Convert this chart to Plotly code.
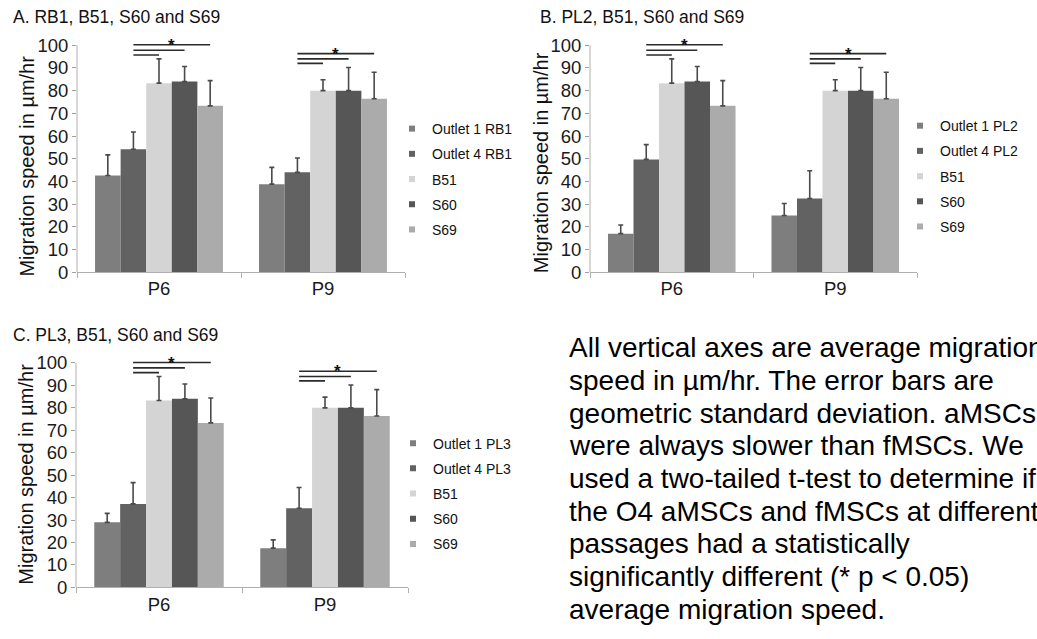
import plotly.graph_objects as go

W, H = 1037, 639
FONT = "Liberation Sans, Arial, sans-serif"

categories = ["P6", "P9"]

# Shared reference cell lines (same in every panel)
b51 = [83.3, 80.0]
b51_err = [10.7, 4.8]
s60 = [84.0, 80.0]
s60_err = [6.6, 10.2]
s69 = [73.3, 76.4]
s69_err = [11.1, 11.7]

# Outlet populations per panel
rb1_o1 = [42.6, 38.8]
rb1_o1_err = [9.1, 7.4]
rb1_o4 = [54.2, 44.0]
rb1_o4_err = [7.6, 6.3]

pl2_o1 = [17.0, 25.0]
pl2_o1_err = [3.8, 5.3]
pl2_o4 = [49.7, 32.5]
pl2_o4_err = [6.5, 12.2]

pl3_o1 = [29.0, 17.5]
pl3_o1_err = [4.0, 3.7]
pl3_o4 = [37.2, 35.3]
pl3_o4_err = [9.5, 9.2]

# Significance bracket heights (O4 vs B51, S60, S69) per passage
sig_p6 = [95.7, 97.8, 100.2]
sig_p9 = [92.0, 94.0, 96.3]

series_colors = ["#7e7e7e", "#626262", "#d4d4d4", "#565656", "#ababab"]

panels = [
    dict(title="A. RB1, B51, S60 and S69", tag="RB1",
         o1=rb1_o1, o1e=rb1_o1_err, o4=rb1_o4, o4e=rb1_o4_err,
         xpx=(77, 405), zero=276, top=45, title_xy=(11, 16),
         ytitle_xy=(27.5, 168), legend_xy=(392, 114)),
    dict(title="B. PL2, B51, S60 and S69", tag="PL2",
         o1=pl2_o1, o1e=pl2_o1_err, o4=pl2_o4, o4e=pl2_o4_err,
         xpx=(590, 917), zero=276, top=45, title_xy=(538, 16),
         ytitle_xy=(541, 165), legend_xy=(900, 111)),
    dict(title="C. PL3, B51, S60 and S69", tag="PL3",
         o1=pl3_o1, o1e=pl3_o1_err, o4=pl3_o4, o4e=pl3_o4_err,
         xpx=(76, 408), zero=596.7, top=368.3, title_xy=(11, 340),
         ytitle_xy=(26, 482), legend_xy=(393, 434)),
]

YMAX = 104
BARGAP = 0.22
NSER = 5
bar_w = (1 - BARGAP) / NSER

fig = go.Figure()
shapes = []
annotations = []
layout_axes = {}

for k, p in enumerate(panels, start=1):
    xa = "x" if k == 1 else f"x{k}"
    ya = "y" if k == 1 else f"y{k}"
    leg = "legend" if k == 1 else f"legend{k}"
    names = [f"Outlet 1 {p['tag']}", f"Outlet 4 {p['tag']}", "B51", "S60", "S69"]
    vals = [p["o1"], p["o4"], b51, s60, s69]
    errs = [p["o1e"], p["o4e"], b51_err, s60_err, s69_err]

    for name, v, e, c in zip(names, vals, errs, series_colors):
        fig.add_trace(go.Bar(
            x=categories, y=v, name=name, marker_color=c, marker_line_width=0,
            error_y=dict(type="data", array=e, arrayminus=[0] * len(e), symmetric=False,
                         color="#4a4a4a", thickness=1.6, width=2.5),
            xaxis=xa, yaxis=ya, showlegend=False,
        ))
        fig.add_trace(go.Scatter(
            x=[None], y=[None], mode="markers", name=name,
            marker=dict(symbol="square", size=6, color=c),
            xaxis=xa, yaxis=ya, legend=leg, legendgroup=f"{k}-{name}",
        ))

    zero, top = p["zero"], p["top"]
    unit = (zero - top) / 100.0
    dom_bottom = 1 - zero / H
    dom_top = 1 - (zero - unit * YMAX) / H
    xkey = "xaxis" if k == 1 else f"xaxis{k}"
    ykey = "yaxis" if k == 1 else f"yaxis{k}"
    layout_axes[xkey] = dict(
        domain=[p["xpx"][0] / W, p["xpx"][1] / W], anchor=ya, type="category",
        showline=True, linecolor="#b0b0b0", linewidth=1,
        ticks="outside", tickson="boundaries", ticklen=5, tickcolor="#b0b0b0",
        tickfont=dict(family=FONT, size=18.5, color="#1a1a1a"),
        showgrid=False, zeroline=False,
    )
    layout_axes[ykey] = dict(
        domain=[dom_bottom, dom_top], anchor=xa, range=[0, YMAX],
        tick0=0, dtick=10, ticks="outside", ticklen=4, tickcolor="#a0a0a0",
        tickfont=dict(family=FONT, size=18.5, color="#1a1a1a"),
        showline=False, showgrid=False, zeroline=False,
    )
    # vertical axis line stops at 100
    shapes.append(dict(type="line", xref=f"{xa} domain", yref=ya, x0=0, x1=0, y0=0, y1=100,
                       line=dict(color="#b0b0b0", width=1)))

    # significance brackets: from the Outlet 4 bar to B51, S60, S69
    for ci, levels in enumerate([sig_p6, sig_p9]):
        start = ci + (1 - 2) * bar_w
        for j, lev in enumerate(levels):
            end = ci + (2 + j - 2) * bar_w
            shapes.append(dict(type="line", xref=xa, yref=ya, x0=start, x1=end,
                               y0=lev, y1=lev, line=dict(color="#2a2a2a", width=1.6)))
        annotations.append(dict(
            x=(start + ci + 2 * bar_w) / 2, y=levels[-1] + 2.4, xref=xa, yref=ya,
            text="<b>*</b>", showarrow=False, yanchor="middle", yshift=-6,
            font=dict(family=FONT, size=17, color="#111")))

    annotations.append(dict(
        x=p["title_xy"][0] / W, y=1 - p["title_xy"][1] / H, xref="paper", yref="paper",
        text=p["title"], showarrow=False, xanchor="left", yanchor="middle",
        font=dict(family=FONT, size=17.5, color="#111")))
    annotations.append(dict(
        x=p["ytitle_xy"][0] / W, y=1 - p["ytitle_xy"][1] / H, xref="paper", yref="paper",
        text="Migration speed in µm/hr", textangle=-90, showarrow=False,
        xanchor="center", yanchor="middle",
        font=dict(family=FONT, size=20, color="#111")))

    layout_axes[leg] = dict(
        x=p["legend_xy"][0] / W, y=1 - p["legend_xy"][1] / H, xanchor="left", yanchor="top",
        font=dict(family=FONT, size=14, color="#111"), bgcolor="rgba(0,0,0,0)",
        tracegroupgap=4, itemwidth=30,
    )

note_lines = [
    "All vertical axes are average migration",
    "speed in µm/hr. The error bars are",
    "geometric standard deviation. aMSCs",
    "were always slower than fMSCs. We",
    "used a two-tailed t-test to determine if",
    "the O4 aMSCs and fMSCs at different",
    "passages had a statistically",
    "significantly different (* p &lt; 0.05)",
    "average migration speed.",
]
for i, line in enumerate(note_lines):
    annotations.append(dict(
        x=567 / W, y=1 - (353 + i * 33.25) / H, xref="paper", yref="paper",
        text=line, showarrow=False, xanchor="left", yanchor="middle",
        font=dict(family=FONT, size=28, color="#000")))

fig.update_layout(
    width=W, height=H, margin=dict(l=0, r=0, t=0, b=0),
    paper_bgcolor="white", plot_bgcolor="white",
    barmode="group", bargap=BARGAP, bargroupgap=0,
    shapes=shapes, annotations=annotations, **layout_axes,
)

fig.write_html("out.html")
